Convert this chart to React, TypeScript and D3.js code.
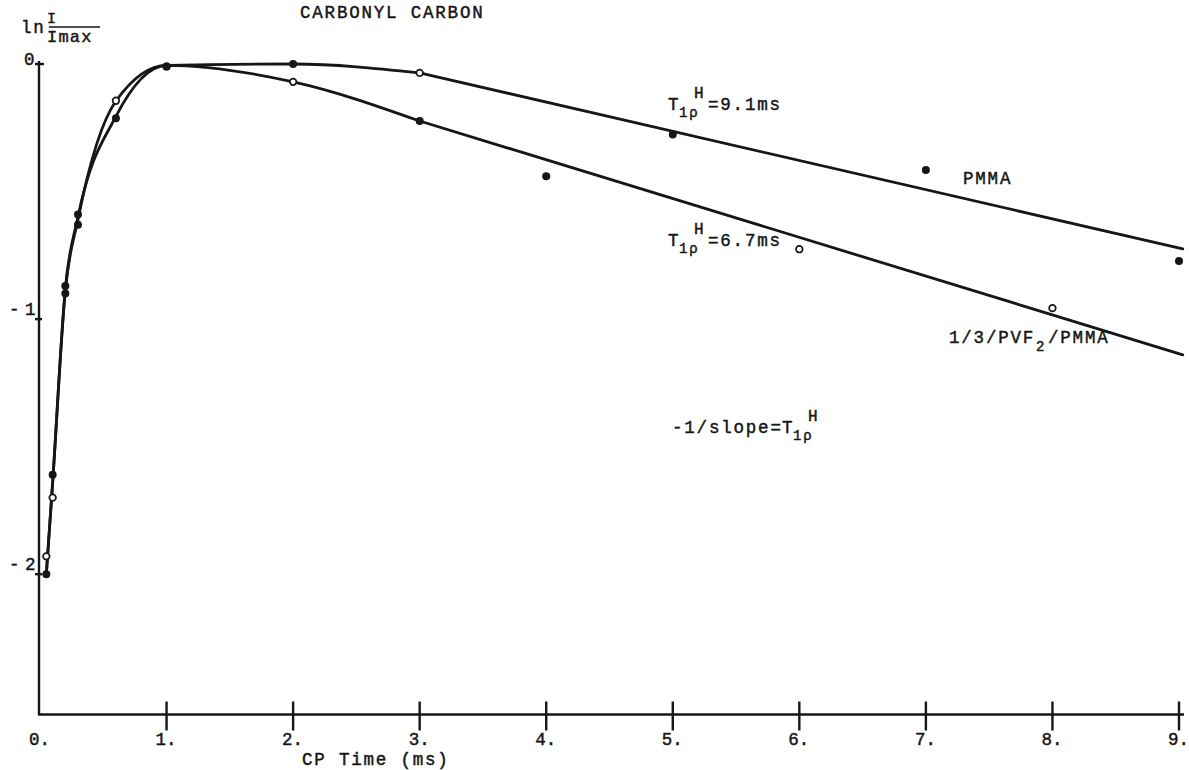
import React from "react";
import * as d3 from "d3";

const W = 1189;
const H = 770;

// PMMA: CP contact time (ms) and ln(I/Imax), carbonyl carbon
const pmmaTime = [0.05, 0.1, 0.2, 0.3, 0.6, 1, 2, 3, 5, 7, 9];
const pmmaLnI = [-2.0, -1.61, -0.87, -0.59, -0.213, -0.01, 0.0, -0.035, -0.276, -0.416, -0.772];
const pmmaMarker = ["filled", "filled", "filled", "filled", "filled", "filled", "filled", "open", "filled", "filled", "filled"];

// 1/3 PVF2/PMMA blend
const blendTime = [0.05, 0.1, 0.2, 0.3, 0.6, 1, 2, 3, 4, 6, 8];
const blendLnI = [-1.93, -1.7, -0.9, -0.63, -0.144, -0.01, -0.07, -0.2235, -0.44, -0.726, -0.957];
const blendMarker = ["open", "open", "filled", "filled", "open", "filled", "open", "filled", "filled", "open", "open"];

// Hand-drawn fits: smooth rise to the maximum, then a straight decay line
const pmmaFitTime = [0.05, 0.1, 0.2, 0.3, 0.6, 1, 2, 3, 9.03];
const pmmaFitLnI = [-2.0, -1.64, -0.88, -0.6, -0.205, -0.005, 0.0, -0.035, -0.725];
const blendFitTime = [0.05, 0.1, 0.2, 0.3, 0.6, 1, 2, 3, 9.03];
const blendFitLnI = [-2.0, -1.64, -0.89, -0.61, -0.145, -0.005, -0.07, -0.2235, -1.14];

const xTickValues = [0, 1, 2, 3, 4, 5, 6, 7, 8, 9];
const yTickValues = [0, -1, -2];

const FONT = "'Liberation Mono', 'DejaVu Sans Mono', monospace";
const INK = "#161616";

const x = d3.scaleLinear().domain([0, 9]).range([40, 1179]);
const y = d3.scaleLinear().domain([0, -2.55]).range([64, 714.5]);

type P = [number, number];
const zip = (a: number[], b: number[]): P[] => a.map((v, i) => [v, b[i]]);

const curveGen = d3
  .line<P>()
  .x((d) => x(d[0]))
  .y((d) => y(d[1]))
  .curve(d3.curveMonotoneX);
const straightGen = d3
  .line<P>()
  .x((d) => x(d[0]))
  .y((d) => y(d[1]));

function FitLine({ t, v }: { t: number[]; v: number[] }) {
  const pts = zip(t, v);
  const head = pts.slice(0, -1);
  const tail = pts.slice(-2);
  return (
    <g fill="none" stroke={INK} strokeWidth={2.8} strokeLinecap="round" strokeLinejoin="round">
      <path d={curveGen(head) || ""} />
      <path d={straightGen(tail) || ""} />
    </g>
  );
}

function Markers({ t, v, m }: { t: number[]; v: number[]; m: string[] }) {
  return (
    <g>
      {t.map((tt, i) =>
        m[i] === "filled" ? (
          <circle key={i} cx={x(tt)} cy={y(v[i])} r={4} fill={INK} />
        ) : (
          <circle key={i} cx={x(tt)} cy={y(v[i])} r={3.3} fill="#fff" stroke={INK} strokeWidth={1.7} />
        )
      )}
    </g>
  );
}

// T_1rho^H symbol: T, subscript "1ρ", superscript H
function T1rhoH({ x0, b }: { x0: number; b: number }) {
  return (
    <g>
      <text x={x0} y={b} fontSize={17.5}>T</text>
      <text x={x0 + 11} y={b + 7} fontSize={14}>1ρ</text>
      <text x={x0 + 26} y={b - 12} fontSize={16}>H</text>
    </g>
  );
}

export default function App() {
  const axisY = y(-2.55);
  const axisX = x(0) - 1;
  return (
    <svg
      width={W}
      height={H}
      viewBox={`0 0 ${W} ${H}`}
      style={{ position: "fixed", left: 0, top: 0, background: "#fff" }}
    >
      {/* fitted curves */}
      <FitLine t={pmmaFitTime} v={pmmaFitLnI} />
      <FitLine t={blendFitTime} v={blendFitLnI} />

      {/* data points */}
      <Markers t={pmmaTime} v={pmmaLnI} m={pmmaMarker} />
      <Markers t={blendTime} v={blendLnI} m={blendMarker} />

      {/* axes */}
      <g stroke={INK} strokeWidth={2.4} fill="none">
        <line x1={axisX} y1={61} x2={axisX} y2={axisY} />
        <line x1={axisX - 1} y1={axisY} x2={x(9) + 5} y2={axisY} />
        {xTickValues
          .filter((d) => d !== 0)
          .map((d) => (
            <line key={d} x1={x(d)} y1={axisY - 13} x2={x(d)} y2={axisY + 16} />
          ))}
        {yTickValues.map((d) => (
          <line key={d} x1={axisX - 4} y1={y(d)} x2={axisX + (d === 0 ? 5 : 3)} y2={y(d)} />
        ))}
      </g>

      <g fontFamily={FONT} fill={INK} stroke={INK} strokeWidth={0.45} letterSpacing={1.8}>
        {/* x tick labels: digit left of the tick, dot right of it */}
        {xTickValues.map((d) => (
          <text key={d} x={x(d) - 11} y={axisY + 30} fontSize={17.5} letterSpacing={0}>
            {`${d}.`}
          </text>
        ))}

        {/* y tick labels */}
        {yTickValues.map((d) =>
          d === 0 ? (
            <text key={d} x={24} y={y(d) + 1} fontSize={17.5}>0</text>
          ) : (
            <g key={d}>
              <text x={9} y={y(d) - 4} fontSize={17.5}>-</text>
              <text x={25} y={y(d) - 4} fontSize={17.5}>{Math.abs(d)}</text>
            </g>
          )
        )}

        {/* y axis title: ln I/Imax */}
        <text x={21} y={33} fontSize={17.5}>ln</text>
        <text x={47} y={23} fontSize={15}>I</text>
        <line x1={49} y1={27} x2={100} y2={27} strokeWidth={1.5} />
        <text x={47} y={42} fontSize={17} letterSpacing={1.2}>Imax</text>

        {/* title and x axis title */}
        <text x={300} y={18} fontSize={17.5}>CARBONYL CARBON</text>
        <text x={302} y={765} fontSize={17.5}>CP Time (ms)</text>

        {/* annotations */}
        <T1rhoH x0={668} b={110} />
        <text x={708} y={110} fontSize={17.5}>=9.1ms</text>
        <text x={963} y={184} fontSize={17.5}>PMMA</text>
        <T1rhoH x0={668} b={246} />
        <text x={708} y={246} fontSize={17.5}>=6.7ms</text>
        <text x={949} y={343} fontSize={17.5}>1/3/PVF</text>
        <text x={1036} y={351} fontSize={14}>2</text>
        <text x={1048} y={343} fontSize={17.5}>/PMMA</text>
        <text x={672} y={433} fontSize={17.5}>-1/slope=</text>
        <T1rhoH x0={782} b={433} />
      </g>
    </svg>
  );
}
